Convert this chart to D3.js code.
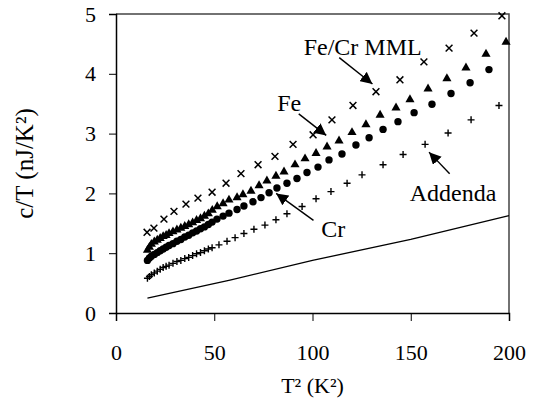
<!DOCTYPE html>
<html>
<head>
<meta charset="utf-8">
<script src="https://cdn.jsdelivr.net/npm/d3@7"></script>
<style>
  body { margin: 0; background: #fff; }
  text { font-family: "Liberation Serif", "Times New Roman", serif; fill: #000; }
</style>
</head>
<body>
<script>
// Fe/Cr MML (x markers)
const mmlX = [15.8, 19.3, 24.4, 29.5, 35.6, 41.7, 48.9, 56.0, 63.6, 72.3, 80.9, 90.1, 100.3, 109.9, 120.6, 132.3, 144.5, 156.7, 169.5, 182.2, 196.4];
const mmlY = [1.35, 1.42, 1.57, 1.70, 1.82, 1.92, 2.02, 2.17, 2.33, 2.48, 2.62, 2.82, 2.98, 3.23, 3.47, 3.70, 3.90, 4.20, 4.43, 4.68, 4.97];

// Fe (triangles)
const feX = [16, 17, 18, 19.5, 21, 22.5, 24, 25.5, 27, 29, 31, 33, 35, 37, 39, 41, 43, 45, 47, 49, 51.5, 54.5, 57.5, 61.6, 64.6, 68.7, 72.8, 76.8, 81.4, 85.5, 91.1, 96.2, 101.8, 107.4, 113.5, 120.1, 127.2, 134.4, 142.5, 149.6, 158.8, 168.4, 178.1, 188.3, 198.5];
const feY = [1.05, 1.10, 1.15, 1.19, 1.22, 1.25, 1.28, 1.30, 1.33, 1.36, 1.39, 1.42, 1.45, 1.48, 1.51, 1.55, 1.58, 1.62, 1.66, 1.72, 1.78, 1.83, 1.89, 1.93, 1.98, 2.04, 2.13, 2.21, 2.29, 2.36, 2.48, 2.58, 2.67, 2.78, 2.88, 3.02, 3.15, 3.31, 3.43, 3.57, 3.75, 3.92, 4.10, 4.33, 4.53];

// Cr (circles)
const crX = [16, 17, 18, 19.5, 21, 22.5, 24, 25.5, 27, 29, 31, 33, 35, 37, 39, 41, 43, 45, 47, 48.9, 51.4, 54.5, 57.5, 61.6, 65.1, 69.7, 73.8, 77.9, 81.9, 87.0, 92.1, 97.2, 102.8, 108.4, 115.0, 122.1, 128.8, 135.9, 143.5, 151.7, 160.8, 170.5, 180.2, 189.8];
const crY = [0.88, 0.92, 0.95, 0.98, 1.01, 1.04, 1.07, 1.10, 1.13, 1.16, 1.20, 1.23, 1.27, 1.30, 1.34, 1.37, 1.41, 1.44, 1.48, 1.52, 1.57, 1.62, 1.67, 1.73, 1.79, 1.86, 1.93, 2.01, 2.09, 2.17, 2.25, 2.35, 2.44, 2.56, 2.66, 2.81, 2.93, 3.07, 3.20, 3.35, 3.49, 3.67, 3.85, 4.07];

// plus markers
const plusX = [16, 17, 18, 19.5, 21, 22.5, 24, 25.5, 27, 29, 31, 33, 35, 37, 39, 41, 43, 45, 47, 48.9, 52.4, 56.5, 60.6, 65.1, 70.2, 75.8, 81.4, 87.0, 94.7, 101.8, 109.4, 117.6, 125.2, 135.9, 146.1, 157.3, 169.0, 180.7, 194.9];
const plusY = [0.58, 0.61, 0.64, 0.67, 0.70, 0.73, 0.76, 0.78, 0.80, 0.83, 0.86, 0.88, 0.91, 0.93, 0.96, 0.99, 1.01, 1.04, 1.07, 1.09, 1.14, 1.20, 1.26, 1.33, 1.40, 1.47, 1.56, 1.66, 1.78, 1.91, 2.03, 2.17, 2.31, 2.48, 2.65, 2.82, 3.01, 3.23, 3.47];

// solid line
const lineX = [16, 58, 100, 150, 200];
const lineY = [0.25, 0.55, 0.88, 1.23, 1.63];

const xTicks = [0, 50, 100, 150, 200];
const yTicks = [0, 1, 2, 3, 4, 5];

// annotations: text, text position, arrow start, arrow tip (data units)
const notes = [
  { label: "Fe/Cr MML", tx: 95.5, ty: 4.32, from: [113.6, 4.27], to: [130.5, 3.83] },
  { label: "Fe", tx: 82, ty: 3.38, from: [93, 3.33], to: [107, 2.97] },
  { label: "Cr", tx: 104.5, ty: 1.27, from: [100.5, 1.55], to: [81.5, 2.0] },
  { label: "Addenda", tx: 149.5, ty: 1.88, from: [169.8, 2.33], to: [159.3, 2.69] }
];

const width = 541, height = 400;
const svg = d3.select("body").append("svg")
  .attr("width", width).attr("height", height);

const x = d3.scaleLinear([0, 200], [116, 509]);
const y = d3.scaleLinear([0, 5], [313, 14]);

// frame (top and right)
svg.append("path")
  .attr("d", `M${x(0)},${y(5)}H${x(200)}V${y(0)}`)
  .attr("fill", "none").attr("stroke", "#444").attr("stroke-width", 1.5);

const xAxis = svg.append("g")
  .attr("transform", `translate(0,${y(0)})`)
  .call(d3.axisBottom(x).tickValues(xTicks).tickSize(8).tickPadding(23));
const yAxis = svg.append("g")
  .attr("transform", `translate(${x(0)},0)`)
  .call(d3.axisLeft(y).tickValues(yTicks).tickSize(7).tickPadding(13).tickFormat(d3.format("d")));

[xAxis, yAxis].forEach(g => {
  g.select(".domain").attr("stroke", "#000").attr("stroke-width", 1.5);
  g.selectAll(".tick line").attr("stroke", "#000").attr("stroke-width", 1);
  g.selectAll(".tick text")
    .attr("font-size", 22)
    .attr("fill", "#000");
});

// axis titles
svg.append("text")
  .attr("x", (x(0) + x(200)) / 2).attr("y", 393)
  .attr("text-anchor", "middle").attr("font-size", 22)
  .text("T² (K²)");
svg.append("text")
  .attr("transform", `translate(33,${(y(0) + y(5)) / 2}) rotate(-90)`)
  .attr("text-anchor", "middle").attr("font-size", 25)
  .text("c/T (nJ/K²)");

// solid line
svg.append("path")
  .datum(d3.zip(lineX, lineY))
  .attr("fill", "none").attr("stroke", "#000").attr("stroke-width", 1.3)
  .attr("d", d3.line().x(d => x(d[0])).y(d => y(d[1])));

// plus markers
svg.append("g").selectAll("path")
  .data(d3.zip(plusX, plusY))
  .join("path")
  .attr("transform", d => `translate(${x(d[0])},${y(d[1])})`)
  .attr("d", "M-3.5,0H3.5M0,-3.5V3.5")
  .attr("stroke", "#000").attr("stroke-width", 1.4);

// circles
svg.append("g").selectAll("circle")
  .data(d3.zip(crX, crY))
  .join("circle")
  .attr("cx", d => x(d[0])).attr("cy", d => y(d[1]))
  .attr("r", 3.7).attr("fill", "#000");

// triangles
const tri = d3.symbol().type(d3.symbolTriangle).size(36);
svg.append("g").selectAll("path")
  .data(d3.zip(feX, feY))
  .join("path")
  .attr("transform", d => `translate(${x(d[0])},${y(d[1])})`)
  .attr("d", tri).attr("fill", "#000");

// x markers
svg.append("g").selectAll("path")
  .data(d3.zip(mmlX, mmlY))
  .join("path")
  .attr("transform", d => `translate(${x(d[0])},${y(d[1])})`)
  .attr("d", "M-3.4,-3.4L3.4,3.4M-3.4,3.4L3.4,-3.4")
  .attr("stroke", "#000").attr("stroke-width", 1.5);

// annotations
svg.append("defs").append("marker")
  .attr("id", "head")
  .attr("viewBox", "0 0 10 10").attr("refX", 10).attr("refY", 5)
  .attr("markerWidth", 12).attr("markerHeight", 12)
  .attr("markerUnits", "userSpaceOnUse")
  .attr("orient", "auto")
  .append("path").attr("d", "M0,0L10,5L0,10Z").attr("fill", "#000");

const ann = svg.append("g");
notes.forEach(n => {
  ann.append("text")
    .attr("x", x(n.tx)).attr("y", y(n.ty))
    .attr("font-size", 24)
    .text(n.label);
  ann.append("line")
    .attr("x1", x(n.from[0])).attr("y1", y(n.from[1]))
    .attr("x2", x(n.to[0])).attr("y2", y(n.to[1]))
    .attr("stroke", "#000").attr("stroke-width", 1.4)
    .attr("marker-end", "url(#head)");
});
</script>
</body>
</html>
